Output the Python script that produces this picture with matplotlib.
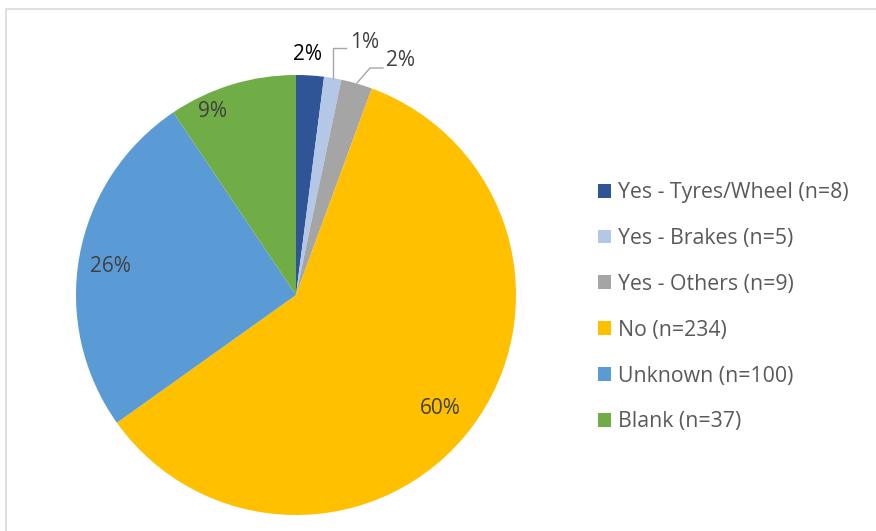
import matplotlib
matplotlib.use("Agg")
import matplotlib.pyplot as plt
from matplotlib.patches import Rectangle, Patch

categories = ["Yes - Tyres/Wheel (n=8)", "Yes - Brakes (n=5)", "Yes - Others (n=9)",
              "No (n=234)", "Unknown (n=100)", "Blank (n=37)"]
values = [8, 5, 9, 234, 100, 37]
pct_labels = ["2%", "1%", "2%", "60%", "26%", "9%"]
colors = ["#2F5597", "#B4C7E7", "#A5A5A5", "#FFC000", "#5B9BD5", "#70AD47"]

plt.rcParams['font.family'] = ['Open Sans', 'DejaVu Sans']
W, H = 876, 531
fig = plt.figure(figsize=(W/100, H/100), dpi=100)
fig.patches.append(Rectangle((6/W, -0.1), 1.2, 1 + 0.1 - 9/H, transform=fig.transFigure,
                             fill=False, edgecolor="#D9D9D9", linewidth=1.2, zorder=0))

cx, cy, R = 296, 295, 220
ax = fig.add_axes([(cx-R)/W, 1-(cy+R)/H, 2*R/W, 2*R/H])
wedges, _ = ax.pie(values, colors=colors, startangle=90, counterclock=False, radius=1,
                   wedgeprops=dict(linewidth=0))
ax.set_xlim(-1, 1); ax.set_ylim(-1, 1)
ax.axis('off')

def p(px, py):
    return ((px-cx)/R, (cy-py)/R)

label_pos = [p(308, 54), p(365, 42), p(401, 60), p(440, 409), p(110, 266), p(213, 111)]
label_colors = ["black", "#404040", "#404040", "#404040", "#404040", "#404040"]
for lab, pos, c in zip(pct_labels, label_pos, label_colors):
    ax.text(pos[0], pos[1], lab, ha='center', va='center', fontsize=15, color=c, clip_on=False)

# leader lines
lx1 = [p(333, 78)[0], p(333, 48)[0], p(346, 48)[0]]
ly1 = [p(333, 78)[1], p(333, 48)[1], p(346, 48)[1]]
ax.plot(lx1, ly1, color="#A6A6A6", lw=1, clip_on=False)
lx2 = [p(357, 83)[0], p(370, 68)[0], p(383, 68)[0]]
ly2 = [p(357, 83)[1], p(370, 68)[1], p(383, 68)[1]]
ax.plot(lx2, ly2, color="#A6A6A6", lw=1, clip_on=False)

handles = [Patch(facecolor=c, edgecolor='none') for c in colors]
leg = fig.legend(handles, categories, loc='upper left', bbox_to_anchor=(579/W, 1-163/H),
                 frameon=False, fontsize=15.3, handlelength=0.62, handleheight=0.62,
                 handletextpad=0.3, labelspacing=1.17, labelcolor="#595959")

fig.savefig("out.png", dpi=100)
